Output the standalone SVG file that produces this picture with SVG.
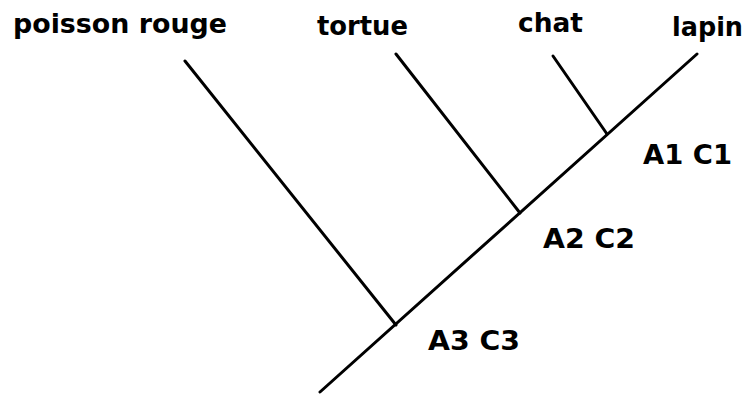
<svg xmlns="http://www.w3.org/2000/svg" width="746" height="395" viewBox="0 0 746 395">
<style>
.lbl{font-family:"DejaVu Sans",Verdana,sans-serif;font-weight:bold;font-size:27px;fill:#000}
.br{stroke:#000;stroke-width:3;stroke-linecap:round;fill:none}
</style>
<rect width="746" height="395" fill="#fff"/>
<g id="connectors">
<line class="br" x1="320" y1="392" x2="697" y2="54"/>
<line class="br" x1="185" y1="61" x2="396" y2="325"/>
<line class="br" x1="396" y1="54" x2="520" y2="213"/>
<line class="br" x1="553" y1="56" x2="607" y2="134"/>
</g>
<g id="poisson"><text class="lbl" x="13" y="33" textLength="214" lengthAdjust="spacingAndGlyphs">poisson rouge</text></g>
<g id="tortue"><text class="lbl" x="317" y="35" textLength="91" lengthAdjust="spacingAndGlyphs">tortue</text></g>
<g id="chat"><text class="lbl" x="518" y="32" textLength="65" lengthAdjust="spacingAndGlyphs">chat</text></g>
<g id="lapin"><text class="lbl" x="672" y="36" textLength="71" lengthAdjust="spacingAndGlyphs">lapin</text></g>
<g id="n1"><text class="lbl" x="643" y="164" textLength="89" lengthAdjust="spacingAndGlyphs">A1 C1</text></g>
<g id="n2"><text class="lbl" x="543" y="248" textLength="92" lengthAdjust="spacingAndGlyphs">A2 C2</text></g>
<g id="n3"><text class="lbl" x="428" y="350" textLength="92" lengthAdjust="spacingAndGlyphs">A3 C3</text></g>
</svg>
